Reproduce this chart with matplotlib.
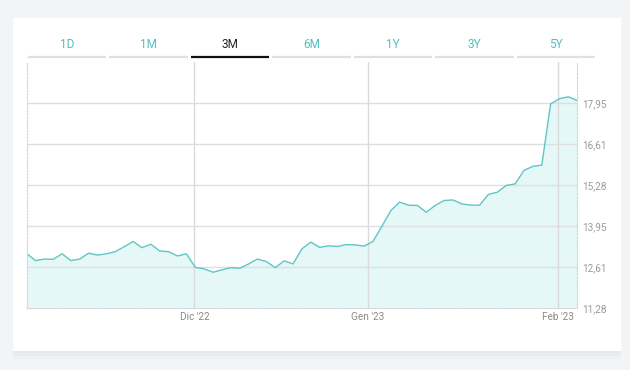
import matplotlib
matplotlib.use("Agg")
import matplotlib.pyplot as plt
from matplotlib.patches import Rectangle
from matplotlib.lines import Line2D

plt.rcParams['font.family'] = ['Roboto', 'DejaVu Sans']

# ---- data ----
values = [13.07, 12.83, 12.88, 12.87, 13.05, 12.83, 12.88, 13.07, 13.01, 13.05,
          13.12, 13.28, 13.45, 13.25, 13.36, 13.14, 13.12, 12.98, 13.05, 12.61,
          12.56, 12.45, 12.53, 12.60, 12.58, 12.72, 12.88, 12.80, 12.60, 12.82,
          12.72, 13.21, 13.43, 13.26, 13.31, 13.29, 13.35, 13.34, 13.30, 13.45,
          13.94, 14.45, 14.73, 14.63, 14.62, 14.40, 14.62, 14.78, 14.80, 14.67,
          14.63, 14.63, 14.98, 15.05, 15.27, 15.32, 15.76, 15.89, 15.93, 17.92,
          18.09, 18.15, 18.03]
x_tick_pos = [18.9, 38.4, 59.8]
x_tick_labels = ["Dic '22", "Gen '23", "Feb '23"]
y_ticks = [11.28, 12.61, 13.95, 15.28, 16.61, 17.95]
y_tick_labels = ["11,28", "12,61", "13,95", "15,28", "16,61", "17,95"]
y_max = 19.28
tabs = ["1D", "1M", "3M", "6M", "1Y", "3Y", "5Y"]
active_tab = "3M"

W, H = 630, 370
fig = plt.figure(figsize=(W / 100, H / 100), dpi=100, facecolor='#f3f4f6')

def fx(px):
    return px / W

def fy(py):
    return 1 - py / H

# card shadow + card
for i, a in enumerate([0.25, 0.35, 0.5]):
    off = 8 - i * 3
    fig.patches.append(Rectangle((fx(12.7), fy(351 + off)), fx(621 - 12.7), (351 + off - 18.3) / H,
                                 transform=fig.transFigure, facecolor='#e4e6e9',
                                 edgecolor='none', alpha=a, zorder=-3))
fig.patches.append(Rectangle((fx(12.7), fy(351)), fx(621 - 12.7), (351 - 18.3) / H,
                             transform=fig.transFigure, facecolor='white',
                             edgecolor='none', zorder=-2))

# tabs
tab_left, tab_right = 28, 598
tw = (tab_right - tab_left) / len(tabs)
for i, t in enumerate(tabs):
    x0 = tab_left + i * tw
    x1 = x0 + tw - 3
    active = (t == active_tab)
    fig.text(fx((x0 + x1) / 2), fy(44.5), t, ha='center', va='center', fontsize=8.5,
             color='#222222' if active else '#4fc0c0')
    fig.add_artist(Line2D([fx(x0), fx(x1)], [fy(57.3), fy(57.3)],
                          color='#111111' if active else '#dde1e5',
                          lw=1.6, solid_capstyle='butt'))

# axes
L, R, T, B = 26.5, 577.3, 62, 308.3
ax = fig.add_axes([fx(L), fy(B), fx(R - L), (B - T) / H])
ax.set_facecolor('none')
xs = list(range(len(values)))
ax.fill_between(xs, values, y_ticks[0], color='#e5f7f7', lw=0, zorder=1)
for yv in y_ticks[1:]:
    ax.axhline(yv, color='#dedfe0', lw=1.0, zorder=1.5)
for xv in x_tick_pos:
    ax.axvline(xv, color='#d9dadb', lw=1.0, zorder=1.5)
ax.plot(xs, values, color='#5ec6c6', lw=1.0, zorder=2)

ax.set_xlim(0, len(values) - 1)
ax.set_ylim(y_ticks[0], y_max)
ax.set_xticks(x_tick_pos, x_tick_labels)
ax.yaxis.tick_right()
ax.set_yticks(y_ticks, y_tick_labels)
ax.tick_params(axis='x', length=0, pad=3, labelsize=7.2, labelcolor='#8a8a8a')
ax.tick_params(axis='y', length=0, pad=3.5, labelsize=7.2, labelcolor='#9a9a9a')

ax.spines['top'].set_visible(False)
for s in ['left', 'right', 'bottom']:
    ax.spines[s].set_color('#d4d4d4')
    ax.spines[s].set_linewidth(0.8)
    ax.spines[s].set_linestyle((0, (1.5, 1.5)))

fig.savefig('out.png', dpi=100, facecolor=fig.get_facecolor())
